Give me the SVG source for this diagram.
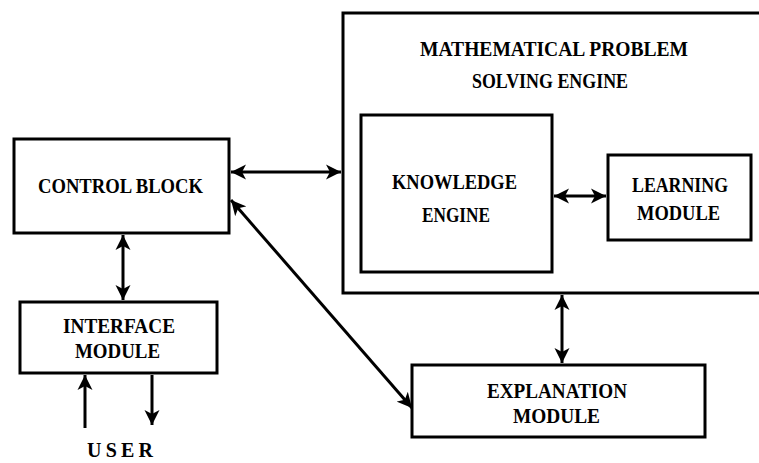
<svg xmlns="http://www.w3.org/2000/svg" width="759" height="463" viewBox="0 0 759 463">
<defs>
<marker id="ah" markerUnits="userSpaceOnUse" viewBox="0 0 16 16" refX="15" refY="8" markerWidth="16" markerHeight="16" orient="auto-start-reverse">
<path d="M0,0.5 L15,8 L0,15.5 L4,8 z" fill="#000"/>
</marker>
</defs>
<style>
.box{fill:#fff;stroke:#000;stroke-width:3}
.t{font-family:"Liberation Serif","DejaVu Serif",serif;font-weight:bold;font-size:20px;fill:#000;text-anchor:start}
.c{fill:none;stroke:#000;stroke-width:3}
</style>
<rect width="759" height="463" fill="#fff"/>
<g id="problem-engine">
<rect class="box" x="343" y="13" width="440" height="280"/>
<text class="t" x="420" y="56" textLength="268" lengthAdjust="spacingAndGlyphs">MATHEMATICAL PROBLEM</text>
<text class="t" x="472" y="88" textLength="156" lengthAdjust="spacingAndGlyphs">SOLVING ENGINE</text>
</g>
<g id="knowledge-engine">
<rect class="box" x="361" y="115" width="191" height="157"/>
<text class="t" x="392" y="189" textLength="125" lengthAdjust="spacingAndGlyphs">KNOWLEDGE</text>
<text class="t" x="422" y="222" textLength="68" lengthAdjust="spacingAndGlyphs">ENGINE</text>
</g>
<g id="learning-module">
<rect class="box" x="608" y="155" width="143" height="85"/>
<text class="t" x="632" y="192" textLength="96" lengthAdjust="spacingAndGlyphs">LEARNING</text>
<text class="t" x="637" y="220" textLength="83" lengthAdjust="spacingAndGlyphs">MODULE</text>
</g>
<g id="control-block">
<rect class="box" x="14" y="139" width="215" height="94"/>
<text class="t" x="38" y="193" textLength="165" lengthAdjust="spacingAndGlyphs">CONTROL BLOCK</text>
</g>
<g id="interface-module">
<rect class="box" x="20" y="302" width="197" height="71"/>
<text class="t" x="63" y="333" textLength="112" lengthAdjust="spacingAndGlyphs">INTERFACE</text>
<text class="t" x="75" y="358" textLength="85" lengthAdjust="spacingAndGlyphs">MODULE</text>
</g>
<g id="explanation-module">
<rect class="box" x="412" y="365" width="293" height="72"/>
<text class="t" x="487" y="398" textLength="140" lengthAdjust="spacingAndGlyphs">EXPLANATION</text>
<text class="t" x="513" y="423" textLength="87" lengthAdjust="spacingAndGlyphs">MODULE</text>
</g>
<g id="user">
<text class="t" x="87" y="457" textLength="66" lengthAdjust="spacing">USER</text>
</g>
<g id="connectors">
<line class="c" x1="231" y1="172" x2="341" y2="172" marker-start="url(#ah)" marker-end="url(#ah)"/>
<line class="c" x1="554" y1="196" x2="606" y2="196" marker-start="url(#ah)" marker-end="url(#ah)"/>
<line class="c" x1="123" y1="235" x2="123" y2="300" marker-start="url(#ah)" marker-end="url(#ah)"/>
<line class="c" x1="562" y1="295" x2="562" y2="363" marker-start="url(#ah)" marker-end="url(#ah)"/>
<line class="c" x1="231" y1="200" x2="412" y2="408" marker-start="url(#ah)" marker-end="url(#ah)"/>
<line class="c" x1="85" y1="428" x2="85" y2="375" marker-end="url(#ah)"/>
<line class="c" x1="152" y1="375" x2="152" y2="425" marker-end="url(#ah)"/>
</g>
</svg>
